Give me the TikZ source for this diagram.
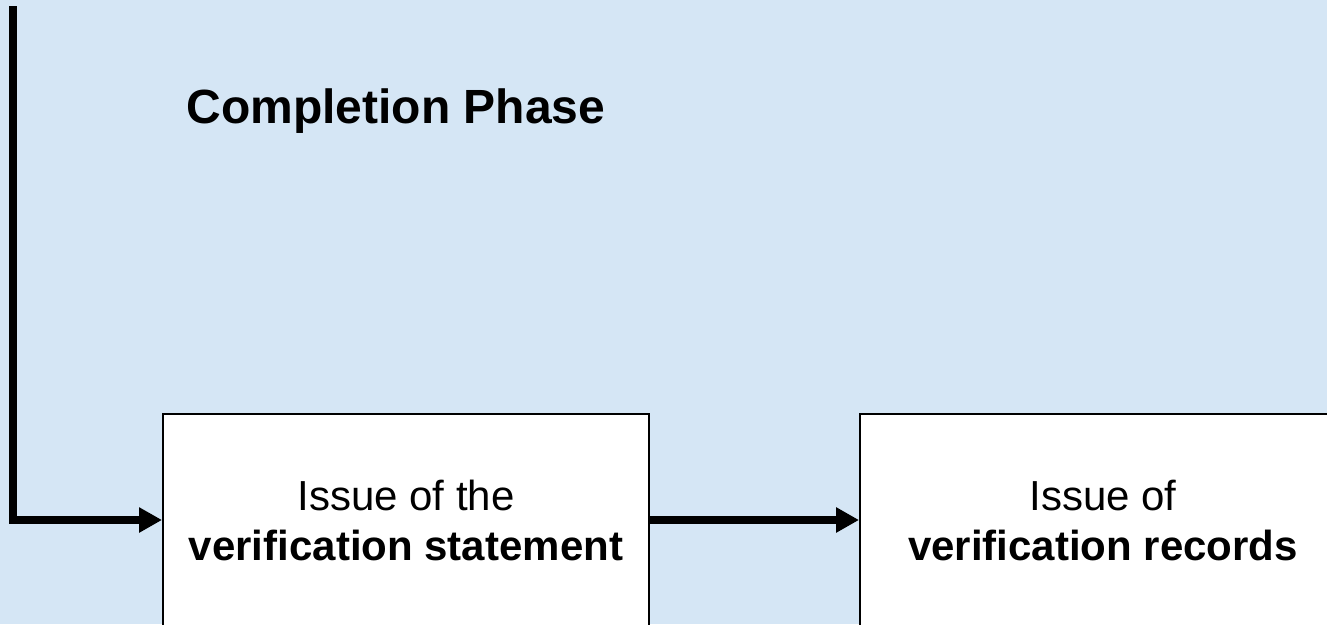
\documentclass[tikz,border=0pt]{standalone}
\usepackage{fontspec}
\setmainfont{Liberation Sans}
\usetikzlibrary{arrows.meta}
\definecolor{bgblue}{RGB}{213,230,245}
\tikzset{
  procbox/.style={draw=black, line width=2pt, fill=white, minimum width=486pt, minimum height=212pt, inner sep=0pt, align=center, font=\fontsize{42}{50}\selectfont},
  flow/.style={line width=7.5pt, -{Triangle[length=23pt,width=24pt]}},
}
\begin{document}
\begin{tikzpicture}[x=1pt,y=-1pt]
\fill[bgblue] (0,0) rectangle (1327,624);
\useasboundingbox (0,0) rectangle (1327,624);
\node[anchor=base west, font=\fontsize{48}{56}\selectfont\bfseries] (title) at (183,123) {Completion Phase};
\node[procbox] (b1) at (406,520) {Issue of the\\\textbf{verification statement}};
\node[procbox] (b2) at (1103,520) {Issue of\\\textbf{verification records}};
\coordinate (top) at (13,6);
\draw[flow] (top) |- (b1.west);
\draw[flow] (b1.east) -- (b2.west);
\end{tikzpicture}
\end{document}
